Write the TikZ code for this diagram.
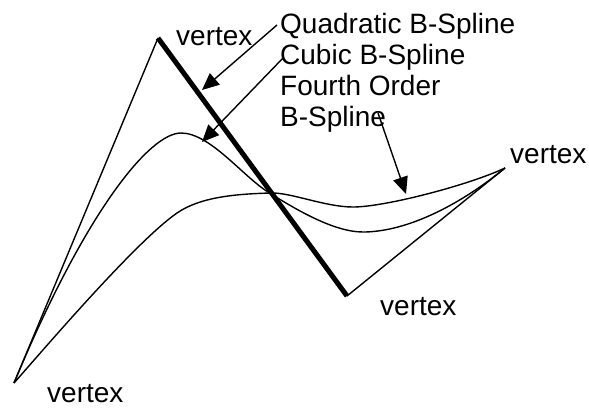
\documentclass[tikz,border=0pt]{standalone}
\usepackage{fontspec}
\setmainfont{Liberation Sans}
\usetikzlibrary{arrows.meta}

\begin{document}
\begin{tikzpicture}[x=1bp, y=-1bp, line join=round,
  every node/.style={font=\fontsize{28bp}{31bp}\selectfont, inner sep=0pt, anchor=base west},
  thinline/.style={line width=1.4bp},
  pointer/.style={line width=1.4bp, -{Triangle[length=17bp,width=15bp]}}]
  \useasboundingbox (0,0) rectangle (589,407);
  % control polygon
  \coordinate (p0) at (14,383);
  \coordinate (p1) at (158,38);
  \coordinate (p2) at (347,296);
  \coordinate (p3) at (505,168);
  \draw[thinline] (p0) -- (p1);
  \draw[line width=5bp] (p1) -- (p2);
  \draw[thinline] (p2) -- (p3);
  % the two curves
  \draw[thinline] (p0) .. controls (86,210) and (150,133) .. (181,133)
    .. controls (210,133) and (242.5,176) .. (268,192)
    .. controls (293.5,208) and (333,232) .. (363,232)
    .. controls (400,232) and (451,212) .. (p3);
  \draw[thinline] (p0) .. controls (47,345.5) and (136,241.5) .. (177,213)
    .. controls (201.6,196) and (240,194) .. (270,193)
    .. controls (290,192) and (325,207) .. (353,207)
    .. controls (385,207) and (469,185) .. (p3);
  % vertex labels
  \node (vlbl0) at (47,402) {vertex};
  \node (vlbl1) at (176,45) {vertex};
  \node (vlbl2) at (380,315) {vertex};
  \node (vlbl3) at (510,163) {vertex};
  % spline labels
  \node (quad) at (280,33) {Quadratic B-Spline};
  \node (cubic) at (280,64) {Cubic B-Spline};
  \node (fourth) at (280,95) {Fourth Order};
  \node (fourthb) at (280,126) {B-Spline};
  \coordinate (quadfrom) at (277,25);
  \coordinate (quadto) at (202,90);
  \coordinate (cubicfrom) at (283,58);
  \coordinate (cubicto) at (202,142);
  \coordinate (fourthfrom) at (378,113);
  \coordinate (fourthto) at (406,194);
  \draw[pointer] (quadfrom) -- (quadto);
  \draw[pointer] (cubicfrom) -- (cubicto);
  \draw[pointer] (fourthfrom) -- (fourthto);
\end{tikzpicture}
\end{document}
